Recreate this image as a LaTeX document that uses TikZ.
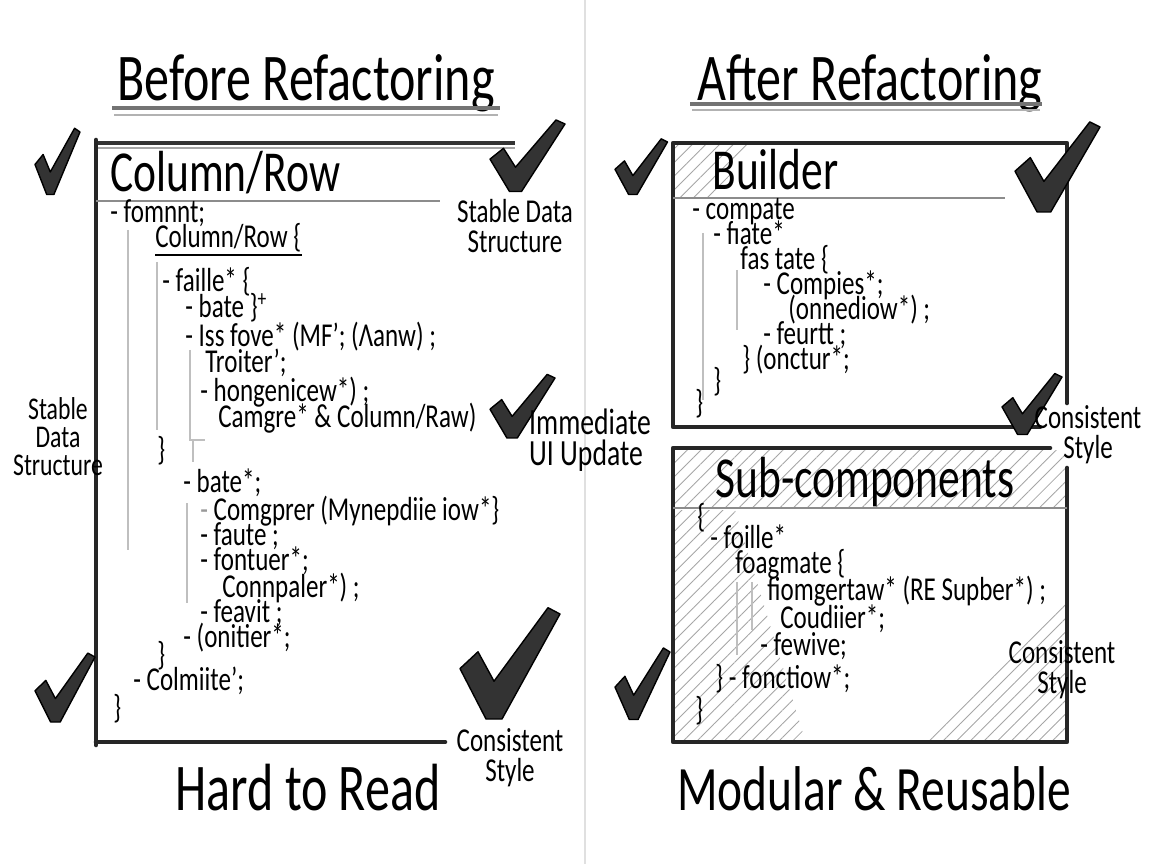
\documentclass[tikz,border=0pt]{standalone}
\usepackage{fontspec}
\setmainfont{Carlito}[FakeStretch=0.75]
\usetikzlibrary{patterns.meta}

\tikzset{
  headline/.style={font=\fontsize{38}{40}\selectfont, text height=26pt, text depth=3pt},
  boxtitle/.style={font=\fontsize{33}{36}\selectfont, anchor=base west, inner sep=0pt, text height=22pt, text depth=2pt},
  codeline/.style={font=\fontsize{19}{21}\selectfont, anchor=base west, inner sep=0pt, text height=11pt, text depth=1pt},
  remark/.style={font=\fontsize{19}{17}\selectfont, align=center, inner sep=0pt},
  frame/.style={line width=2.6pt, black!85, line cap=round, line join=round},
  rule/.style={line width=1.2pt, black!45},
  guide/.style={line width=0.6pt, black!25},
  hatch/.style={pattern={Lines[angle=45,distance=5.5pt,line width=0.5pt]}, pattern color=black!35},
  chk/.style={fill=black!80, draw=black, line width=0.8pt, line join=round}
}
\newcommand{\chkmark}[4]{%
  \begin{scope}[shift={(#1,#2)}, xscale=#3, yscale=#4]
    \filldraw[chk] (0,26) -- (9,18) -- (17,32) -- (44,-3) -- (50,0) -- (21,50) -- (13,50) -- cycle;
  \end{scope}}

\begin{document}
\begin{tikzpicture}[x=0.02cm, y=-0.02cm]
\useasboundingbox (0,0) rectangle (1152,864);
% fold of the page
\draw[line width=0.8pt, black!12] (585,0) -- (585,864);
% titles
\node[headline] (before) at (306,80) {Before Refactoring};
\node[headline] (after) at (870,80) {After Refactoring};
\draw[line width=2pt, black!55] (112,108) -- (500,108);
\draw[line width=1.5pt, black!30] (114,115) -- (498,115);
\draw[line width=2pt, black!55] (690,104) -- (1042,104);
\draw[line width=1.5pt, black!30] (692,110) -- (1040,110);

% left: Column/Row box
\draw[line width=2.5pt, black!80] (96,143) -- (515,143);
\draw[line width=1.2pt, black!35] (96,148) -- (515,148);
\draw[frame] (96,140) -- (96,745);
\draw[frame] (96,742) -- (445,742);
\draw[rule] (96,201) -- (440,201);
\node[boxtitle] (colrow) at (110,192) {Column/Row};
\draw[guide] (128,230) -- (128,550);
\draw[guide] (157,262) -- (157,430);
\draw[guide] (190,350) -- (190,440) -- (205,440);
\draw[guide] (193,440) -- (193,462);
\draw[guide] (187,503) -- (187,603);
\node[codeline] (l1) at (110,223) {- fomnnt;};
\node[codeline] (l2) at (155,248) {Column/Row \{};
\draw[line width=0.9pt] ([yshift=-4pt]l2.base west) -- ([yshift=-4pt]l2.base east);
\node[codeline] (l3) at (162,292) {- faille* \{};
\node[codeline] (l4) at (185,318) {- bate \}\textsuperscript{+}};
\node[codeline] (l5) at (185,347) {- Iss fove* (MF'; (Λanw) ;};
\node[codeline] (l6) at (205,373) {Troiter';};
\node[codeline] (l7) at (200,402) {- hongenicew*) ;};
\node[codeline] (l8) at (218,428) {Camgre* \& Column/Raw)};
\node[codeline] (l9) at (157,460) {\}};
\node[codeline] (l10) at (183,492) {- bate*;};
\node[codeline] (l11) at (200,520) {{\color{black!40}-} Comgprer (Mynepdiie iow*\}};
\node[codeline] (l12) at (200,545) {- faute ;};
\node[codeline] (l13) at (200,570) {- fontuer*;};
\node[codeline] (l14) at (222,597) {Connpaler*) ;};
\node[codeline] (l15) at (200,622) {- feavit ;};
\node[codeline] (l16) at (183,647) {- (onitier*;};
\node[codeline] (l17) at (157,665) {\}};
\node[codeline] (l18) at (133,690) {- Colmiite';};
\node[codeline] (l19) at (113,718) {\}};

% left: notes and ticks
\chkmark{35}{132}{0.9}{1.25}
\chkmark{490}{124}{1.5}{1.35}
\chkmark{490}{378}{1.3}{1.2}
\chkmark{35}{657}{1.2}{1.3}
\chkmark{460}{614}{2.0}{2.1}
\node[remark] (stable1) at (515,226) {Stable Data\\Structure};
\node[remark, align=left, font=\fontsize{21}{18}\selectfont] (ui) at (590,440) {Immediate\\UI Update};
\node[remark, font=\fontsize{18}{16}\selectfont] (stable2) at (58,437) {Stable\\Data\\Structure};
\node[remark] (cons1) at (510,758) {Consistent\\Style};
\node[headline] (hard) at (308,790) {Hard to Read};

% right: Builder box
\fill[hatch] (675,143) -- (755,143) -- (712,198) -- (675,198) -- cycle;
\draw[frame] (1067,403) -- (1067,143) -- (673,143) -- (673,427) -- (1040,427);
\draw[rule] (673,198) -- (1005,198);
\node[boxtitle] (builder) at (712,190) {Builder};
\draw[guide] (703,233) -- (703,400);
\draw[guide] (737,270) -- (737,330);
\node[codeline] (b1) at (692,220) {- compate};
\node[codeline] (b2) at (713,245) {- f{\i}ate*};
\node[codeline] (b3) at (740,270) {fas tate \{};
\node[codeline] (b4) at (763,295) {- Compies*;};
\node[codeline] (b5) at (788,320) {(onnediow*) ;};
\node[codeline] (b6) at (763,345) {- feurtt ;};
\node[codeline] (b7) at (742,370) {\} (onctur*;};
\node[codeline] (b8) at (713,392) {\}};
\node[codeline] (b9) at (695,414) {\}};

% right: Sub-components box
\fill[hatch] (675,450) rectangle (1065,508);
\fill[hatch] (675,510) -- (735,510) -- (805,740) -- (675,740) -- cycle;
\fill[hatch] (925,740) -- (1065,600) -- (1065,740) -- cycle;
\draw[frame] (1050,448) -- (673,448) -- (673,742) -- (1067,742) -- (1067,468);
\draw[rule] (673,508) -- (1067,508);
\node[boxtitle, anchor=base] (subcomp) at (865,497) {Sub-components};
\draw[guide] (737,582) -- (737,655);
\draw[guide] (752,582) -- (752,630);
\node[codeline] (s1) at (697,527) {\{};
\node[codeline] (s2) at (710,548) {- foille*};
\node[codeline] (s3) at (735,573) {foagmate \{};
\node[codeline] (s4) at (767,600) {fiomgertaw* (RE Supber*) ;};
\node[codeline] (s5) at (780,628) {Coudiier*;};
\node[codeline] (s6) at (760,655) {- fewive;};
\node[codeline] (s7) at (715,688) {\} - fonctiow*;};
\node[codeline] (s8) at (695,720) {\}};

% right: notes and ticks
\chkmark{615}{142}{1.05}{1.05}
\chkmark{1015}{127}{1.7}{1.7}
\chkmark{1002}{377}{1.2}{1.15}
\chkmark{615}{652}{1.1}{1.35}
\node[remark] (cons2) at (1088,435) {Consistent\\Style};
\node[remark] (cons3) at (1062,670) {Consistent\\Style};
\node[headline, font=\fontsize{36}{38}\selectfont] (modular) at (874,790) {Modular \& Reusable};
\end{tikzpicture}
\end{document}
